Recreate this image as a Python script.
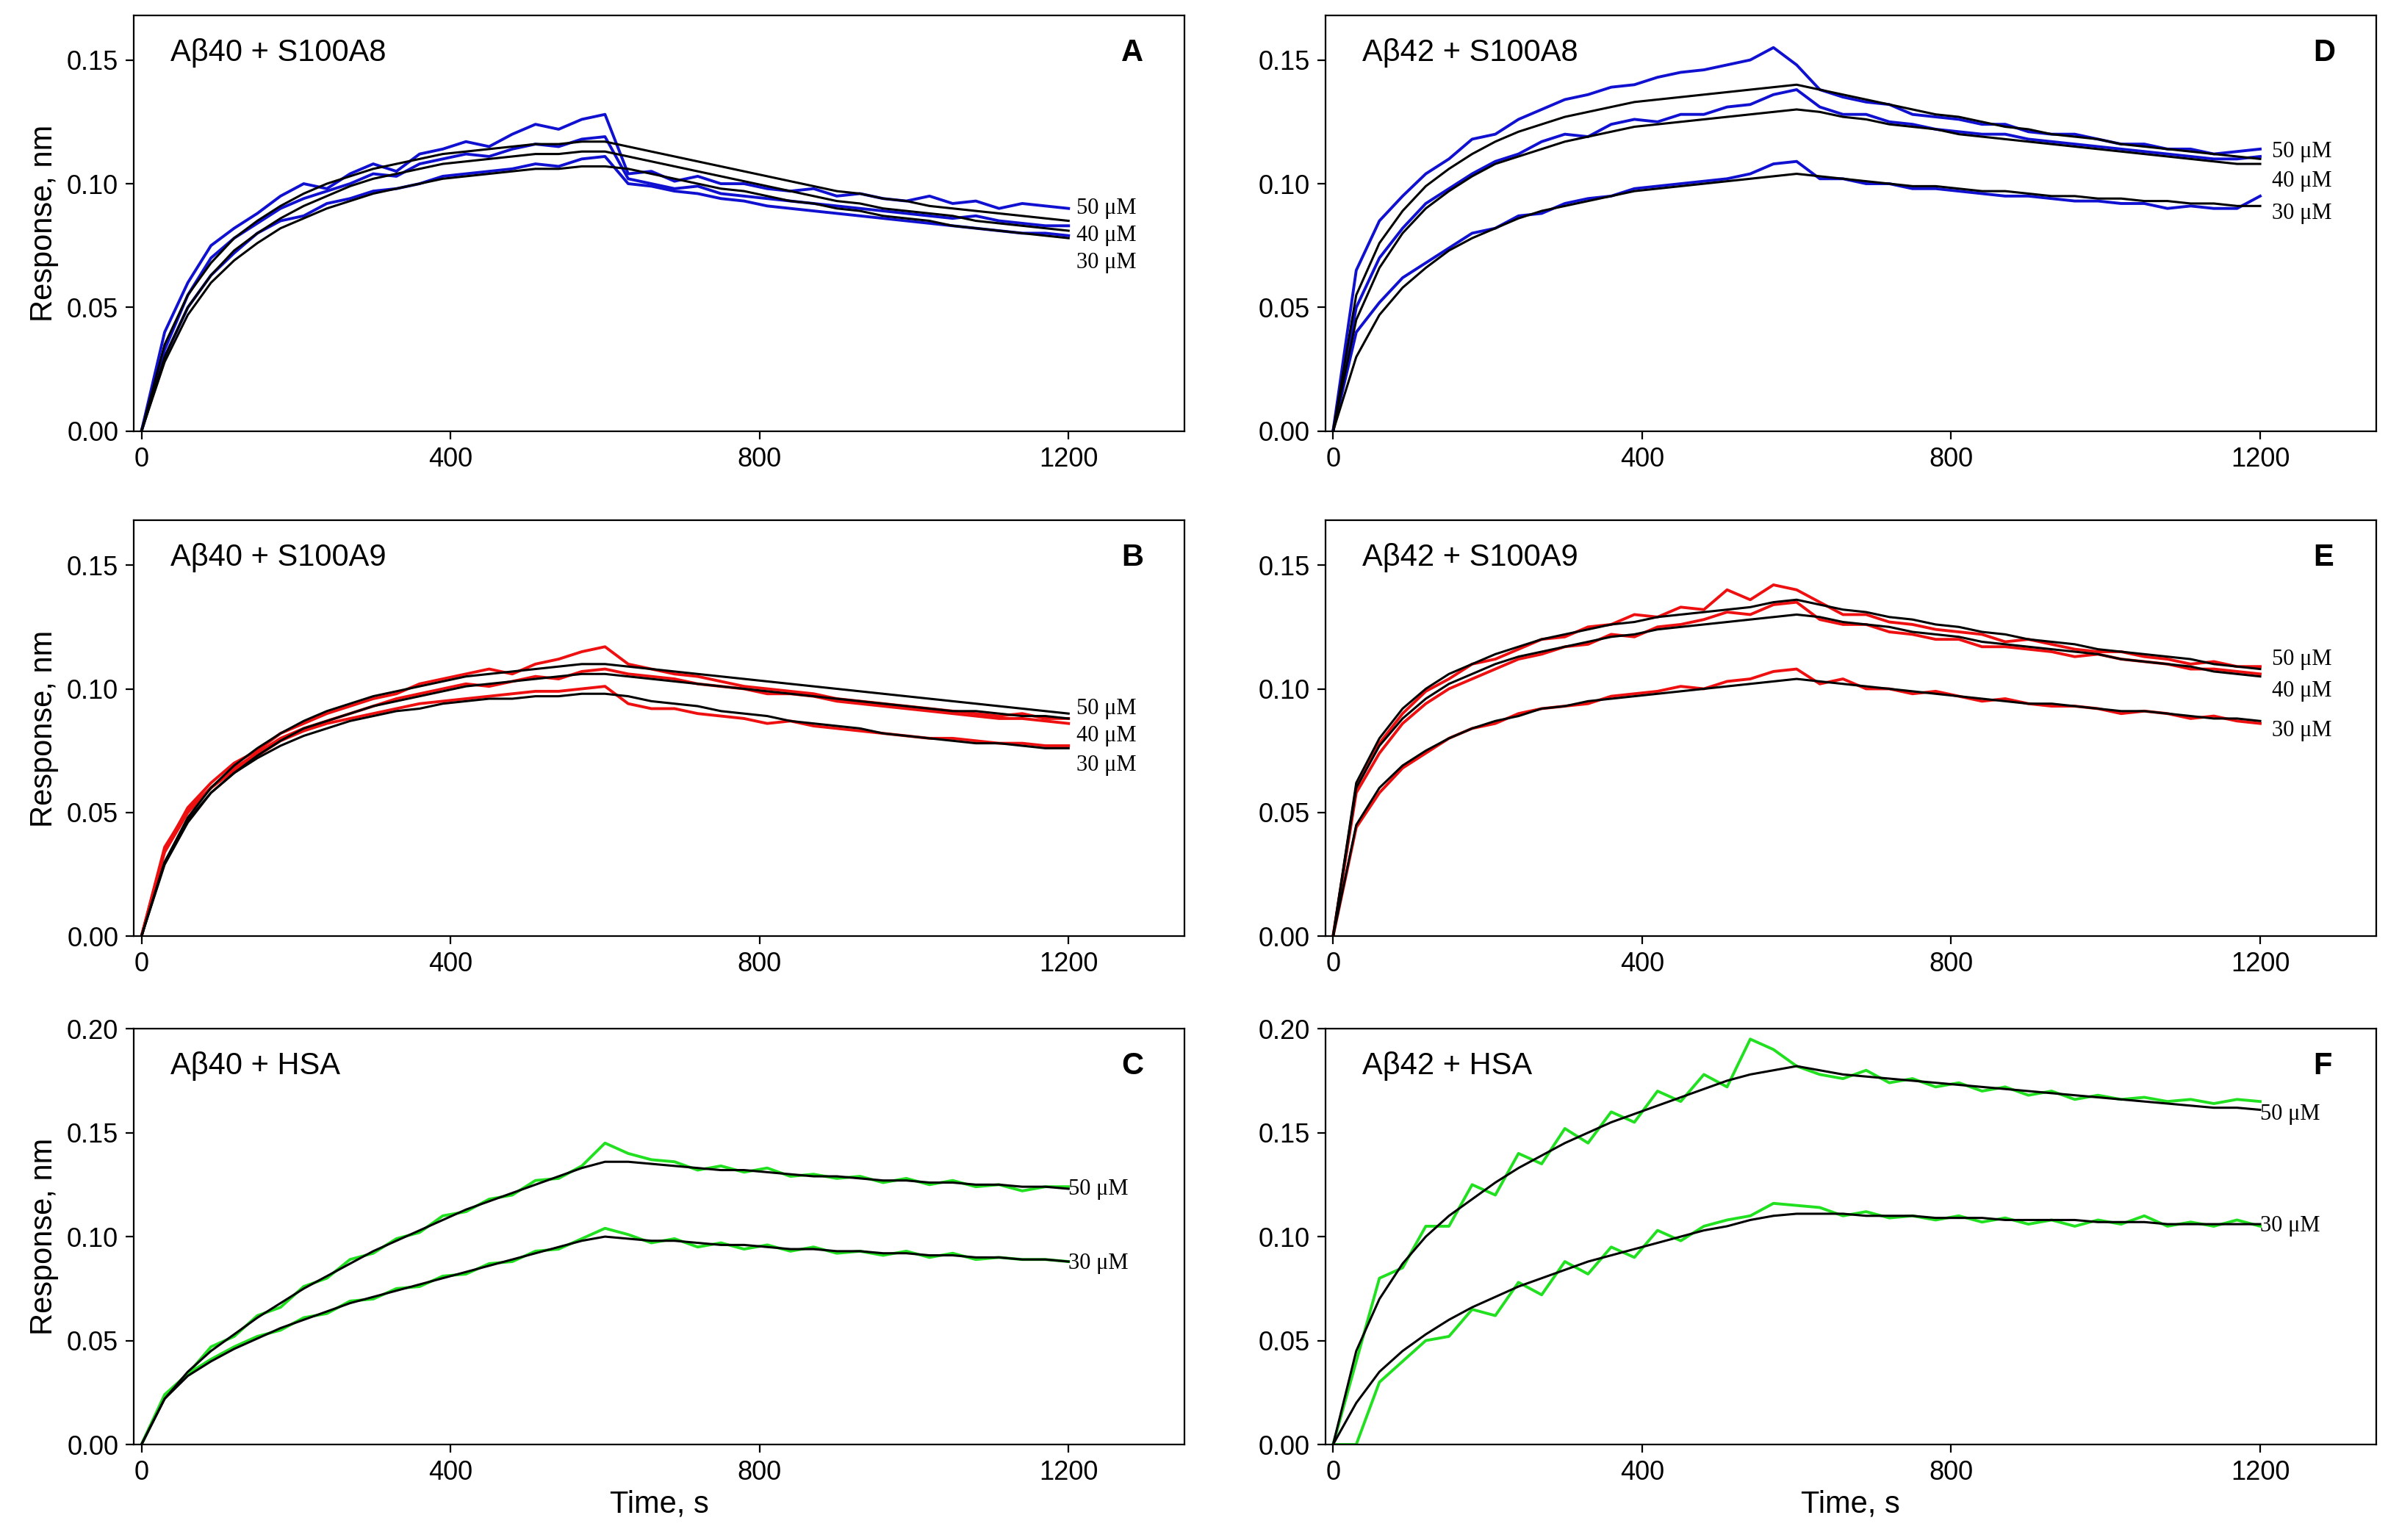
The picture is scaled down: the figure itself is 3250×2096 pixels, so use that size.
import numpy as np, pandas as pd, seaborn as sns, matplotlib.pyplot as plt

T = list(range(0, 1201, 30))

A_fit50=[0,.035,.055,.068,.078,.085,.091,.096,.100,.103,.106,.108,.110,.112,.113,.114,.115,.116,.116,.117,.117,.115,.113,.111,.109,.107,.105,.103,.101,.099,.097,.096,.094,.093,.091,.090,.089,.088,.087,.086,.085]
A_fit40=[0,.030,.050,.063,.073,.080,.086,.091,.095,.099,.102,.104,.106,.108,.109,.110,.111,.112,.112,.113,.113,.111,.109,.107,.105,.103,.101,.099,.097,.095,.093,.092,.090,.089,.088,.087,.085,.084,.083,.082,.081]
A_fit30=[0,.028,.047,.060,.069,.076,.082,.086,.090,.093,.096,.098,.100,.102,.103,.104,.105,.106,.106,.107,.107,.106,.104,.102,.100,.098,.097,.095,.093,.092,.090,.089,.087,.086,.085,.083,.082,.081,.080,.079,.078]
A_d50=[0,.040,.060,.075,.082,.088,.095,.100,.098,.104,.108,.105,.112,.114,.117,.115,.120,.124,.122,.126,.128,.104,.105,.101,.103,.100,.100,.098,.097,.098,.095,.096,.094,.093,.095,.092,.093,.090,.092,.091,.090]
A_d40=[0,.033,.055,.070,.078,.084,.090,.094,.097,.100,.104,.103,.108,.110,.112,.111,.114,.116,.115,.118,.119,.102,.100,.098,.099,.096,.095,.094,.093,.092,.091,.090,.089,.088,.087,.086,.087,.085,.084,.083,.083]
A_d30=[0,.030,.050,.063,.072,.080,.085,.087,.092,.094,.097,.098,.100,.103,.104,.105,.106,.108,.107,.110,.111,.100,.099,.097,.096,.094,.093,.091,.090,.089,.088,.087,.086,.085,.084,.083,.082,.081,.080,.080,.079]

B_fit50=[0,.030,.048,.060,.069,.076,.082,.087,.091,.094,.097,.099,.101,.103,.105,.106,.107,.108,.109,.110,.110,.109,.108,.107,.106,.105,.104,.103,.102,.101,.100,.099,.098,.097,.096,.095,.094,.093,.092,.091,.090]
B_fit40=[0,.029,.046,.058,.066,.073,.079,.084,.087,.090,.093,.095,.097,.099,.101,.102,.103,.104,.105,.106,.106,.105,.104,.103,.102,.101,.100,.099,.098,.097,.096,.095,.094,.093,.092,.091,.091,.090,.089,.089,.088]
B_fit30=[0,.030,.047,.058,.066,.072,.077,.081,.084,.087,.089,.091,.092,.094,.095,.096,.096,.097,.097,.098,.098,.097,.095,.094,.093,.091,.090,.089,.087,.086,.085,.084,.082,.081,.080,.079,.078,.078,.077,.076,.076]
B_d50=[0,.035,.052,.062,.070,.075,.082,.086,.090,.093,.096,.098,.102,.104,.106,.108,.106,.110,.112,.115,.117,.110,.108,.106,.105,.103,.101,.100,.099,.098,.096,.095,.094,.093,.092,.091,.090,.089,.090,.088,.088]
B_d40=[0,.034,.050,.060,.068,.074,.080,.084,.087,.090,.093,.096,.098,.100,.102,.101,.103,.105,.104,.107,.108,.106,.105,.104,.102,.101,.100,.098,.098,.097,.095,.094,.093,.092,.091,.090,.089,.088,.088,.087,.086]
B_d30=[0,.036,.051,.060,.067,.073,.079,.083,.086,.088,.090,.092,.094,.095,.096,.097,.098,.099,.099,.100,.101,.094,.092,.092,.090,.089,.088,.086,.087,.085,.084,.083,.082,.081,.080,.080,.079,.078,.078,.077,.077]

C_fit50=[0,.022,.035,.045,.053,.061,.068,.075,.081,.087,.093,.098,.103,.108,.113,.117,.121,.125,.129,.133,.136,.136,.135,.134,.133,.132,.132,.131,.130,.129,.129,.128,.127,.127,.126,.126,.125,.125,.124,.124,.123]
C_fit30=[0,.022,.033,.040,.046,.051,.056,.060,.064,.068,.071,.074,.077,.080,.083,.086,.089,.092,.095,.098,.100,.099,.098,.098,.097,.096,.096,.095,.094,.094,.093,.093,.092,.092,.091,.091,.090,.090,.089,.089,.088]
C_d50=[0,.024,.034,.047,.052,.062,.066,.076,.080,.089,.092,.099,.102,.110,.112,.118,.120,.127,.128,.134,.145,.140,.137,.136,.132,.134,.131,.133,.129,.130,.128,.129,.126,.128,.125,.127,.124,.125,.122,.124,.124]
C_d30=[0,.023,.034,.041,.047,.052,.055,.061,.063,.069,.070,.075,.076,.081,.082,.087,.088,.093,.094,.099,.104,.101,.097,.099,.095,.097,.094,.096,.093,.095,.092,.093,.091,.093,.090,.092,.089,.090,.089,.089,.088]

D_fit50=[0,.055,.076,.089,.099,.106,.112,.117,.121,.124,.127,.129,.131,.133,.134,.135,.136,.137,.138,.139,.140,.138,.136,.134,.132,.130,.128,.127,.125,.123,.122,.120,.119,.118,.116,.115,.114,.113,.112,.111,.110]
D_fit40=[0,.045,.066,.080,.090,.097,.103,.108,.111,.114,.117,.119,.121,.123,.124,.125,.126,.127,.128,.129,.130,.129,.127,.126,.124,.123,.122,.120,.119,.118,.117,.116,.115,.114,.113,.112,.111,.110,.109,.108,.108]
D_fit30=[0,.030,.047,.058,.066,.073,.078,.082,.086,.089,.091,.093,.095,.097,.098,.099,.100,.101,.102,.103,.104,.103,.102,.101,.100,.099,.099,.098,.097,.097,.096,.095,.095,.094,.094,.093,.093,.092,.092,.091,.091]
D_d50=[0,.065,.085,.095,.104,.110,.118,.120,.126,.130,.134,.136,.139,.140,.143,.145,.146,.148,.150,.155,.148,.138,.135,.133,.132,.128,.127,.126,.124,.124,.121,.120,.120,.118,.116,.116,.114,.114,.112,.113,.114]
D_d40=[0,.050,.070,.082,.092,.098,.104,.109,.112,.117,.120,.119,.124,.126,.125,.128,.128,.131,.132,.136,.138,.131,.128,.128,.125,.124,.122,.121,.120,.120,.118,.117,.116,.115,.114,.113,.112,.111,.110,.110,.111]
D_d30=[0,.040,.052,.062,.068,.074,.080,.082,.087,.088,.092,.094,.095,.098,.099,.100,.101,.102,.104,.108,.109,.102,.102,.100,.100,.098,.098,.097,.096,.095,.095,.094,.093,.093,.092,.092,.090,.091,.090,.090,.095]

E_fit50=[0,.062,.080,.092,.100,.106,.110,.114,.117,.120,.122,.124,.126,.127,.129,.130,.131,.132,.133,.135,.136,.134,.132,.131,.129,.128,.126,.125,.123,.122,.120,.119,.118,.116,.115,.114,.113,.112,.110,.109,.108]
E_fit40=[0,.060,.077,.088,.096,.102,.106,.110,.113,.115,.117,.119,.121,.122,.124,.125,.126,.127,.128,.129,.130,.129,.127,.126,.125,.123,.122,.121,.119,.118,.117,.116,.115,.114,.112,.111,.110,.109,.107,.106,.105]
E_fit30=[0,.045,.060,.069,.075,.080,.084,.087,.089,.092,.093,.095,.096,.097,.098,.099,.100,.101,.102,.103,.104,.103,.102,.101,.100,.099,.098,.097,.096,.095,.094,.094,.093,.092,.091,.091,.090,.089,.088,.088,.087]
E_d50=[0,.060,.078,.090,.099,.104,.110,.112,.116,.120,.121,.125,.126,.130,.129,.133,.132,.140,.136,.142,.140,.135,.130,.130,.127,.126,.124,.123,.122,.119,.120,.118,.116,.115,.115,.113,.112,.110,.111,.109,.109]
E_d40=[0,.058,.074,.086,.094,.100,.104,.108,.112,.114,.117,.118,.122,.121,.125,.126,.128,.131,.130,.134,.135,.128,.126,.126,.123,.122,.120,.120,.117,.117,.116,.115,.113,.114,.112,.111,.110,.108,.108,.107,.106]
E_d30=[0,.044,.058,.068,.074,.080,.084,.086,.090,.092,.093,.094,.097,.098,.099,.101,.100,.103,.104,.107,.108,.102,.104,.100,.100,.098,.099,.097,.095,.096,.094,.093,.093,.092,.090,.091,.090,.088,.089,.087,.086]

F_fit50=[0,.045,.070,.087,.100,.110,.118,.126,.133,.139,.145,.150,.155,.159,.163,.167,.171,.175,.178,.180,.182,.180,.178,.177,.176,.175,.174,.173,.172,.171,.170,.169,.168,.167,.166,.165,.164,.163,.162,.162,.161]
F_fit30=[0,.020,.035,.045,.053,.060,.066,.071,.076,.080,.084,.088,.091,.094,.097,.100,.103,.105,.108,.110,.111,.111,.111,.110,.110,.110,.109,.109,.109,.108,.108,.108,.108,.107,.107,.107,.106,.106,.106,.106,.106]
F_d50=[0,.040,.080,.085,.105,.105,.125,.120,.140,.135,.152,.145,.160,.155,.170,.165,.178,.172,.195,.190,.182,.178,.176,.180,.174,.176,.172,.174,.170,.172,.168,.170,.166,.168,.166,.167,.165,.166,.164,.166,.165]
F_d30=[0,0,.030,.040,.050,.052,.065,.062,.078,.072,.088,.082,.095,.090,.103,.098,.105,.108,.110,.116,.115,.114,.110,.112,.109,.110,.108,.110,.107,.109,.106,.108,.105,.108,.106,.110,.105,.107,.105,.108,.105]

panels = [
 ("A","Aβ40 + S100A8","#1010d0",[A_d50,A_d40,A_d30],[A_fit50,A_fit40,A_fit30],["50 μM","40 μM","30 μM"],[.090,.079,.068],0.168,1210),
 ("B","Aβ40 + S100A9","#ee1010",[B_d50,B_d40,B_d30],[B_fit50,B_fit40,B_fit30],["50 μM","40 μM","30 μM"],[.092,.081,.069],0.168,1210),
 ("C","Aβ40 + HSA","#20e020",[C_d50,C_d30],[C_fit50,C_fit30],["50 μM","30 μM"],[.123,.087],0.199,1200),
 ("D","Aβ42 + S100A8","#1010d0",[D_d50,D_d40,D_d30],[D_fit50,D_fit40,D_fit30],["50 μM","40 μM","30 μM"],[.113,.101,.088],0.168,1215),
 ("E","Aβ42 + S100A9","#ee1010",[E_d50,E_d40,E_d30],[E_fit50,E_fit40,E_fit30],["50 μM","40 μM","30 μM"],[.112,.099,.083],0.168,1215),
 ("F","Aβ42 + HSA","#20e020",[F_d50,F_d30],[F_fit50,F_fit30],["50 μM","30 μM"],[.159,.105],0.199,1200),
]

plt.rcParams["font.family"] = "Liberation Sans"
fig = plt.figure(figsize=(16.25, 10.48), dpi=200)
lefts = [0.056, 0.555]
bottoms = [0.72, 0.392, 0.062]
W, H = 0.44, 0.27
for i, (letter, title, col, datas, fits, labs, ly, ytop, lx) in enumerate(panels):
    c, r = divmod(i, 3)
    ax = fig.add_axes([lefts[c], bottoms[r], W, H])
    for d in datas:
        sns.lineplot(x=T, y=d, ax=ax, color=col, lw=1.4, estimator=None)
    for f in fits:
        sns.lineplot(x=T, y=f, ax=ax, color="black", lw=1.1, estimator=None)
    for lab, yy in zip(labs, ly):
        ax.text(lx, yy, lab, fontsize=11, family="Liberation Serif", va="center", ha="left")
    ax.set_xlim(-10, 1350)
    ax.set_ylim(0, ytop)
    ax.set_xticks([0, 400, 800, 1200])
    if ytop > 0.19:
        ax.set_yticks([0, .05, .10, .15, .20])
    else:
        ax.set_yticks([0, .05, .10, .15])
    ax.yaxis.set_major_formatter(plt.FuncFormatter(lambda v, p: f"{v:.2f}"))
    ax.tick_params(labelsize=13, length=4)
    ax.text(0.035, 0.91, title, transform=ax.transAxes, fontsize=15, va="center")
    ax.text(0.94, 0.91, letter, transform=ax.transAxes, fontsize=15, fontweight="bold", va="center")
    if c == 0:
        ax.set_ylabel("Response, nm", fontsize=15)
    if r == 2:
        ax.set_xlabel("Time, s", fontsize=15, labelpad=2)
fig.savefig("out.png", dpi=200)
